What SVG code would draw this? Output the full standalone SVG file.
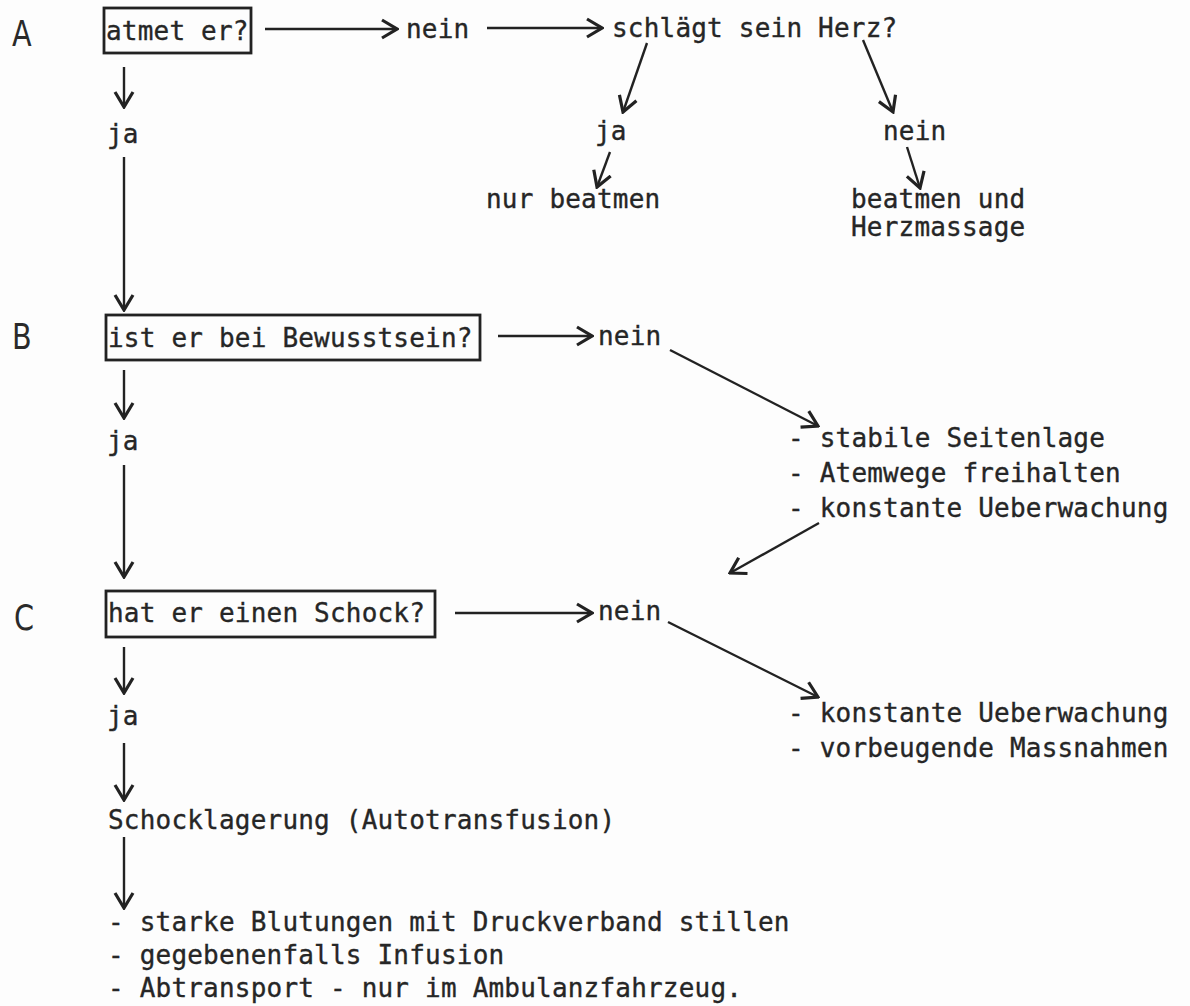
<svg xmlns="http://www.w3.org/2000/svg" width="1190" height="1006" viewBox="0 0 1190 1006">
  <defs>
    <style>
      .t { font-family: "DejaVu Sans Mono", "Liberation Mono", monospace; font-size: 26px; letter-spacing: 0.2px; fill: #262626; stroke: #262626; stroke-width: 0.35px; }
      .lbl { font-family: "DejaVu Sans", "Liberation Sans", sans-serif; font-size: 35px; fill: #2a2a2a; }
      .box { fill: none; stroke: #222; stroke-width: 2.8; }
      .c { fill: none; stroke: #222; stroke-width: 2.4; marker-end: url(#ah); }
    </style>
    <marker id="ah" markerUnits="userSpaceOnUse" viewBox="0 0 18 22" refX="16" refY="11" markerWidth="18" markerHeight="22" orient="auto">
      <path d="M1,2 L16,11 L1,20" fill="none" stroke="#222" stroke-width="3.2" stroke-linejoin="miter"/>
    </marker>
  </defs>
  <rect width="1190" height="1006" fill="#fdfdfd"/>

  <g id="labels">
    <text class="lbl" x="12" y="46" transform="translate(12,0) scale(0.82,1) translate(-12,0)">A</text>
    <text class="lbl" x="12" y="349" transform="translate(12,0) scale(0.82,1) translate(-12,0)">B</text>
    <text class="lbl" x="14" y="630" transform="translate(14,0) scale(0.82,1) translate(-14,0)">C</text>
  </g>

  <g id="nodeA">
    <rect class="box" x="104" y="8" width="147" height="45"/>
    <text class="t" x="106" y="40">atmet er?</text>
  </g>
  <g id="nodeA-nein"><text class="t" x="406" y="38">nein</text></g>
  <g id="nodeA-herz"><text class="t" x="612" y="37">schlägt sein Herz?</text></g>
  <g id="nodeA-herz-ja"><text class="t" x="595" y="140">ja</text></g>
  <g id="nodeA-herz-nein"><text class="t" x="883" y="140">nein</text></g>
  <g id="nodeA-nurbeatmen"><text class="t" x="486" y="208">nur beatmen</text></g>
  <g id="nodeA-herzmassage">
    <text class="t" x="851" y="208">beatmen und</text>
    <text class="t" x="851" y="236">Herzmassage</text>
  </g>
  <g id="nodeA-ja"><text class="t" x="107" y="143">ja</text></g>

  <g id="nodeB">
    <rect class="box" x="106" y="315" width="374" height="45"/>
    <text class="t" x="108" y="347">ist er bei Bewusstsein?</text>
  </g>
  <g id="nodeB-nein"><text class="t" x="598" y="345">nein</text></g>
  <g id="nodeB-list">
    <text class="t" x="788" y="447">- stabile Seitenlage</text>
    <text class="t" x="788" y="482">- Atemwege freihalten</text>
    <text class="t" x="788" y="517">- konstante Ueberwachung</text>
  </g>
  <g id="nodeB-ja"><text class="t" x="107" y="450">ja</text></g>

  <g id="nodeC">
    <rect class="box" x="106" y="591" width="329" height="46"/>
    <text class="t" x="108" y="622">hat er einen Schock?</text>
  </g>
  <g id="nodeC-nein"><text class="t" x="598" y="620">nein</text></g>
  <g id="nodeC-list">
    <text class="t" x="788" y="722">- konstante Ueberwachung</text>
    <text class="t" x="788" y="757">- vorbeugende Massnahmen</text>
  </g>
  <g id="nodeC-ja"><text class="t" x="107" y="725">ja</text></g>
  <g id="nodeC-schocklagerung"><text class="t" x="108" y="829">Schocklagerung (Autotransfusion)</text></g>
  <g id="nodeC-list2">
    <text class="t" x="108" y="931">- starke Blutungen mit Druckverband stillen</text>
    <text class="t" x="108" y="964">- gegebenenfalls Infusion</text>
    <text class="t" x="108" y="997">- Abtransport - nur im Ambulanzfahrzeug.</text>
  </g>

  <g id="connectors">
    <line class="c" x1="265" y1="29" x2="397" y2="29"/>
    <line class="c" x1="487" y1="28" x2="602" y2="28"/>
    <line class="c" x1="647" y1="43" x2="623" y2="112"/>
    <line class="c" x1="863" y1="40" x2="893" y2="112"/>
    <line class="c" x1="610" y1="152" x2="597" y2="187"/>
    <line class="c" x1="907" y1="147" x2="920" y2="188"/>
    <line class="c" x1="124" y1="67" x2="124" y2="107"/>
    <line class="c" x1="124" y1="157" x2="124" y2="310"/>

    <line class="c" x1="498" y1="336" x2="592" y2="336"/>
    <line class="c" x1="670" y1="350" x2="818" y2="426"/>
    <line class="c" x1="819" y1="523" x2="730" y2="573"/>
    <line class="c" x1="124" y1="370" x2="124" y2="418"/>
    <line class="c" x1="124" y1="465" x2="124" y2="577"/>

    <line class="c" x1="455" y1="613" x2="592" y2="613"/>
    <line class="c" x1="668" y1="622" x2="818" y2="697"/>
    <line class="c" x1="124" y1="647" x2="124" y2="693"/>
    <line class="c" x1="124" y1="743" x2="124" y2="800"/>
    <line class="c" x1="124" y1="837" x2="124" y2="908"/>
  </g>
</svg>
